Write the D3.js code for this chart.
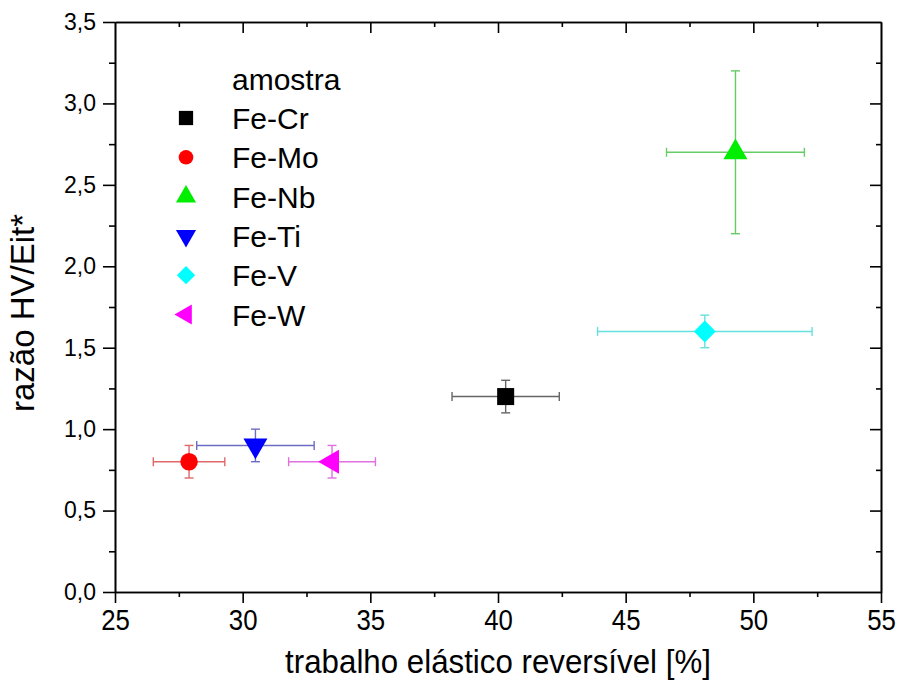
<!DOCTYPE html>
<html>
<head>
<meta charset="utf-8">
<script src="https://cdn.jsdelivr.net/npm/d3@7"></script>
<style>
  body { margin: 0; background: #fff; }
  svg { display: block; }
  .axis path, .axis line { stroke: #000; stroke-width: 1.6; }
  .ylab { font-family: "Liberation Sans", Arial, sans-serif; }
  .xlab { font-family: "Liberation Sans", Arial, sans-serif; }
</style>
</head>
<body>
<div id="chart"></div>
<script>
const width = 898;
const height = 689;

// ------- data --------//
const samples = ["Fe-Cr", "Fe-Mo", "Fe-Nb", "Fe-Ti", "Fe-V", "Fe-W"];
const trabalho = [40.3, 27.9, 49.3, 30.5, 48.1, 33.5];
const trabalhoErr = [2.1, 1.4, 2.7, 2.3, 4.2, 1.7];
const razao = [1.2, 0.8, 2.7, 0.9, 1.6, 0.8];
const razaoErr = [0.1, 0.1, 0.5, 0.1, 0.1, 0.1];
const xTicks = [25, 30, 35, 40, 45, 50, 55];
const yTicks = [0, 0.5, 1.0, 1.5, 2.0, 2.5, 3.0, 3.5];

const colors = ["#000000", "#ff0000", "#00ee00", "#0000ff", "#00ffff", "#ff00ff"];
const errColors = ["#666666", "#e06868", "#66cc66", "#6c6cc4", "#66e0e0", "#e070e0"];
const symbols = [d3.symbolSquare, d3.symbolCircle, d3.symbolTriangle, d3.symbolTriangle, d3.symbolSquare, d3.symbolTriangle];
const rotations = [0, 0, 0, 180, 45, -90];
const sizes = [290, 240, 250, 250, 240, 250];

const data = samples.map((s, i) => ({
  name: s, x: trabalho[i], xe: trabalhoErr[i], y: razao[i], ye: razaoErr[i], i: i
}));

// ------- scale ---------//
const x = d3.scaleLinear().domain([25, 55]).range([115, 881]);
const y = d3.scaleLinear().domain([0, 3.5]).range([592, 22]);

const fmt = d => d3.format(".1f")(d).replace(".", ",");

const svg = d3.select("#chart").append("svg")
  .attr("width", width)
  .attr("height", height);

// --------- axis --------//
const minorX = d3.range(27.5, 55, 5);
const minorY = d3.range(0.25, 3.5, 0.5);

function styleAxis(g) {
  g.attr("class", "axis");
  g.selectAll("text").attr("fill", "#000");
}

// bottom
svg.append("g").attr("transform", `translate(0,${y(0)})`)
  .call(d3.axisBottom(x).tickValues(xTicks).tickSize(11).tickPadding(6).tickSizeOuter(0))
  .call(styleAxis)
  .call(g => g.selectAll("text")
    .attr("class", "xlab")
    .attr("transform", "scale(0.86,1)")
    .style("font-size", "30px"));
svg.append("g").attr("transform", `translate(0,${y(0)})`)
  .call(d3.axisBottom(x).tickValues(minorX).tickSize(5).tickFormat("").tickSizeOuter(0))
  .call(styleAxis);

// left
svg.append("g").attr("transform", `translate(${x(25)},0)`)
  .call(d3.axisLeft(y).tickValues(yTicks).tickSize(12).tickPadding(7).tickFormat(fmt).tickSizeOuter(0))
  .call(styleAxis)
  .call(g => g.selectAll("text").attr("class", "ylab").style("font-size", "23px"));
svg.append("g").attr("transform", `translate(${x(25)},0)`)
  .call(d3.axisLeft(y).tickValues(minorY).tickSize(6).tickFormat("").tickSizeOuter(0))
  .call(styleAxis);

// top mirror, ticks inward
svg.append("g").attr("transform", `translate(0,${y(3.5)})`)
  .call(d3.axisBottom(x).tickValues(xTicks.slice(1, -1)).tickSize(11).tickFormat("").tickSizeOuter(0))
  .call(styleAxis);
svg.append("g").attr("transform", `translate(0,${y(3.5)})`)
  .call(d3.axisBottom(x).tickValues(minorX).tickSize(5).tickFormat("").tickSizeOuter(0))
  .call(styleAxis);

// right mirror, ticks inward
svg.append("g").attr("transform", `translate(${x(55)},0)`)
  .call(d3.axisLeft(y).tickValues(yTicks.slice(1, -1)).tickSize(11).tickFormat("").tickSizeOuter(0))
  .call(styleAxis);
svg.append("g").attr("transform", `translate(${x(55)},0)`)
  .call(d3.axisLeft(y).tickValues(minorY).tickSize(5).tickFormat("").tickSizeOuter(0))
  .call(styleAxis);

// axis titles
svg.append("text")
  .attr("class", "xlab")
  .attr("transform", `translate(${(x(25) + x(55)) / 2},673) scale(0.92,1)`)
  .attr("text-anchor", "middle")
  .style("font-size", "34px")
  .text("trabalho elástico reversível [%]");

svg.append("text")
  .attr("class", "ylab")
  .attr("transform", `translate(34,${(y(0) + y(3.5)) / 2 + 6}) rotate(-90)`)
  .attr("text-anchor", "middle")
  .style("font-size", "33px")
  .text("razão HV/Eit*");

// ------- error bars --------//
const cap = 4.5;
const eb = svg.append("g").attr("stroke-width", 1.4);
data.forEach(d => {
  const c = errColors[d.i];
  const g = eb.append("g").attr("stroke", c);
  // horizontal
  g.append("line").attr("x1", x(d.x - d.xe)).attr("x2", x(d.x + d.xe)).attr("y1", y(d.y)).attr("y2", y(d.y));
  g.append("line").attr("x1", x(d.x - d.xe)).attr("x2", x(d.x - d.xe)).attr("y1", y(d.y) - cap).attr("y2", y(d.y) + cap);
  g.append("line").attr("x1", x(d.x + d.xe)).attr("x2", x(d.x + d.xe)).attr("y1", y(d.y) - cap).attr("y2", y(d.y) + cap);
  // vertical
  g.append("line").attr("x1", x(d.x)).attr("x2", x(d.x)).attr("y1", y(d.y - d.ye)).attr("y2", y(d.y + d.ye));
  g.append("line").attr("x1", x(d.x) - cap).attr("x2", x(d.x) + cap).attr("y1", y(d.y - d.ye)).attr("y2", y(d.y - d.ye));
  g.append("line").attr("x1", x(d.x) - cap).attr("x2", x(d.x) + cap).attr("y1", y(d.y + d.ye)).attr("y2", y(d.y + d.ye));
});

// ------- points --------//
svg.append("g").selectAll("path")
  .data(data)
  .join("path")
    .attr("transform", d => `translate(${x(d.x)},${y(d.y)}) rotate(${rotations[d.i]})`)
    .attr("d", d => d3.symbol(symbols[d.i], sizes[d.i])())
    .attr("fill", d => colors[d.i]);

// ------- legend --------//
const legend = svg.append("g").attr("class", "ylab");
legend.append("text")
  .attr("x", 232).attr("y", 90)
  .style("font-size", "30px")
  .text("amostra");

const rows = legend.selectAll("g.row")
  .data(data)
  .join("g")
    .attr("class", "row")
    .attr("transform", (d, i) => `translate(0,${129 + i * 39.3})`);

rows.append("path")
  .attr("transform", d => `translate(186,-11) rotate(${rotations[d.i]})`)
  .attr("d", d => d3.symbol(symbols[d.i], sizes[d.i] * 0.7)())
  .attr("fill", d => colors[d.i]);

rows.append("text")
  .attr("x", 232).attr("y", 0)
  .style("font-size", "30px")
  .text(d => d.name);
</script>
</body>
</html>
